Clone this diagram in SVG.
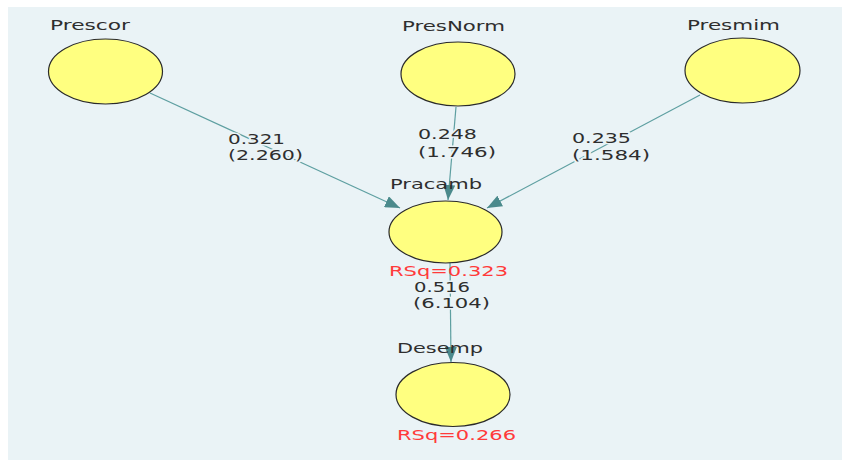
<svg xmlns="http://www.w3.org/2000/svg" width="842" height="460" viewBox="0 0 842 460">
  <style>
    .lv { fill: #ffff80; stroke: #2a2a2a; stroke-width: 1.2; }
    .name { font-family: "DejaVu Sans", sans-serif; font-size: 14px; fill: #2e2e2e; }
    .coef { font-family: "DejaVu Sans", sans-serif; font-size: 14px; fill: #2e2e2e; stroke: #eaf3f6; stroke-width: 3; paint-order: stroke; stroke-linejoin: round; }
    .rsq { font-family: "DejaVu Sans", sans-serif; font-size: 14px; fill: #ff3a3a; }
    .path { stroke: #5e9fa1; stroke-width: 1.2; fill: none; }
  </style>
  <defs>
    <marker id="arrow" markerUnits="userSpaceOnUse" markerWidth="16" markerHeight="12" refX="15" refY="6" orient="auto">
      <path d="M0,0 L15,6 L0,12 Z" fill="#4b8a8c"/>
    </marker>
  </defs>

  <!-- canvas -->
  <rect x="0" y="0" width="842" height="460" fill="#ffffff"/>
  <rect x="8" y="7" width="834" height="453" fill="#eaf3f6"/>

  <!-- structural paths -->
  <g id="connectors">
    <line class="path" x1="150" y1="93" x2="400" y2="208" marker-end="url(#arrow)"/>
    <line class="path" x1="456" y1="107" x2="448" y2="200" marker-end="url(#arrow)"/>
    <line class="path" x1="700" y1="95" x2="487" y2="208" marker-end="url(#arrow)"/>
    <line class="path" x1="450" y1="263" x2="451" y2="362" marker-end="url(#arrow)"/>
    <!-- path coefficients with t-values -->
    <text class="coef" x="228" y="144" textLength="57" lengthAdjust="spacingAndGlyphs">0.321</text>
    <text class="coef" x="228" y="160" textLength="75" lengthAdjust="spacingAndGlyphs">(2.260)</text>
    <text class="coef" x="418" y="139" textLength="59" lengthAdjust="spacingAndGlyphs">0.248</text>
    <text class="coef" x="418" y="157" textLength="78" lengthAdjust="spacingAndGlyphs">(1.746)</text>
    <text class="coef" x="572" y="143" textLength="59" lengthAdjust="spacingAndGlyphs">0.235</text>
    <text class="coef" x="572" y="160" textLength="78" lengthAdjust="spacingAndGlyphs">(1.584)</text>
    <text class="coef" x="414" y="292" textLength="56" lengthAdjust="spacingAndGlyphs">0.516</text>
    <text class="coef" x="413" y="308" textLength="77" lengthAdjust="spacingAndGlyphs">(6.104)</text>
  </g>

  <g id="Prescor">
    <ellipse class="lv" cx="105.5" cy="71.5" rx="57" ry="32.5"/>
    <text class="name" x="50" y="30" textLength="80" lengthAdjust="spacingAndGlyphs">Prescor</text>
  </g>

  <g id="PresNorm">
    <ellipse class="lv" cx="458" cy="74" rx="57" ry="32"/>
    <text class="name" x="402" y="31" textLength="103" lengthAdjust="spacingAndGlyphs">PresNorm</text>
  </g>

  <g id="Presmim">
    <ellipse class="lv" cx="742.5" cy="70.5" rx="57.5" ry="32.5"/>
    <text class="name" x="687" y="30" textLength="93" lengthAdjust="spacingAndGlyphs">Presmim</text>
  </g>

  <g id="Pracamb">
    <ellipse class="lv" cx="445.5" cy="232" rx="56.5" ry="31"/>
    <text class="name" x="390" y="189" textLength="92" lengthAdjust="spacingAndGlyphs">Pracamb</text>
    <text class="rsq" x="389" y="276" textLength="119" lengthAdjust="spacingAndGlyphs">RSq=0.323</text>
  </g>

  <g id="Desemp">
    <ellipse class="lv" cx="453" cy="394.5" rx="57" ry="32"/>
    <text class="name" x="397" y="353" textLength="86" lengthAdjust="spacingAndGlyphs">Desemp</text>
    <text class="rsq" x="397" y="440" textLength="119" lengthAdjust="spacingAndGlyphs">RSq=0.266</text>
  </g>
</svg>
